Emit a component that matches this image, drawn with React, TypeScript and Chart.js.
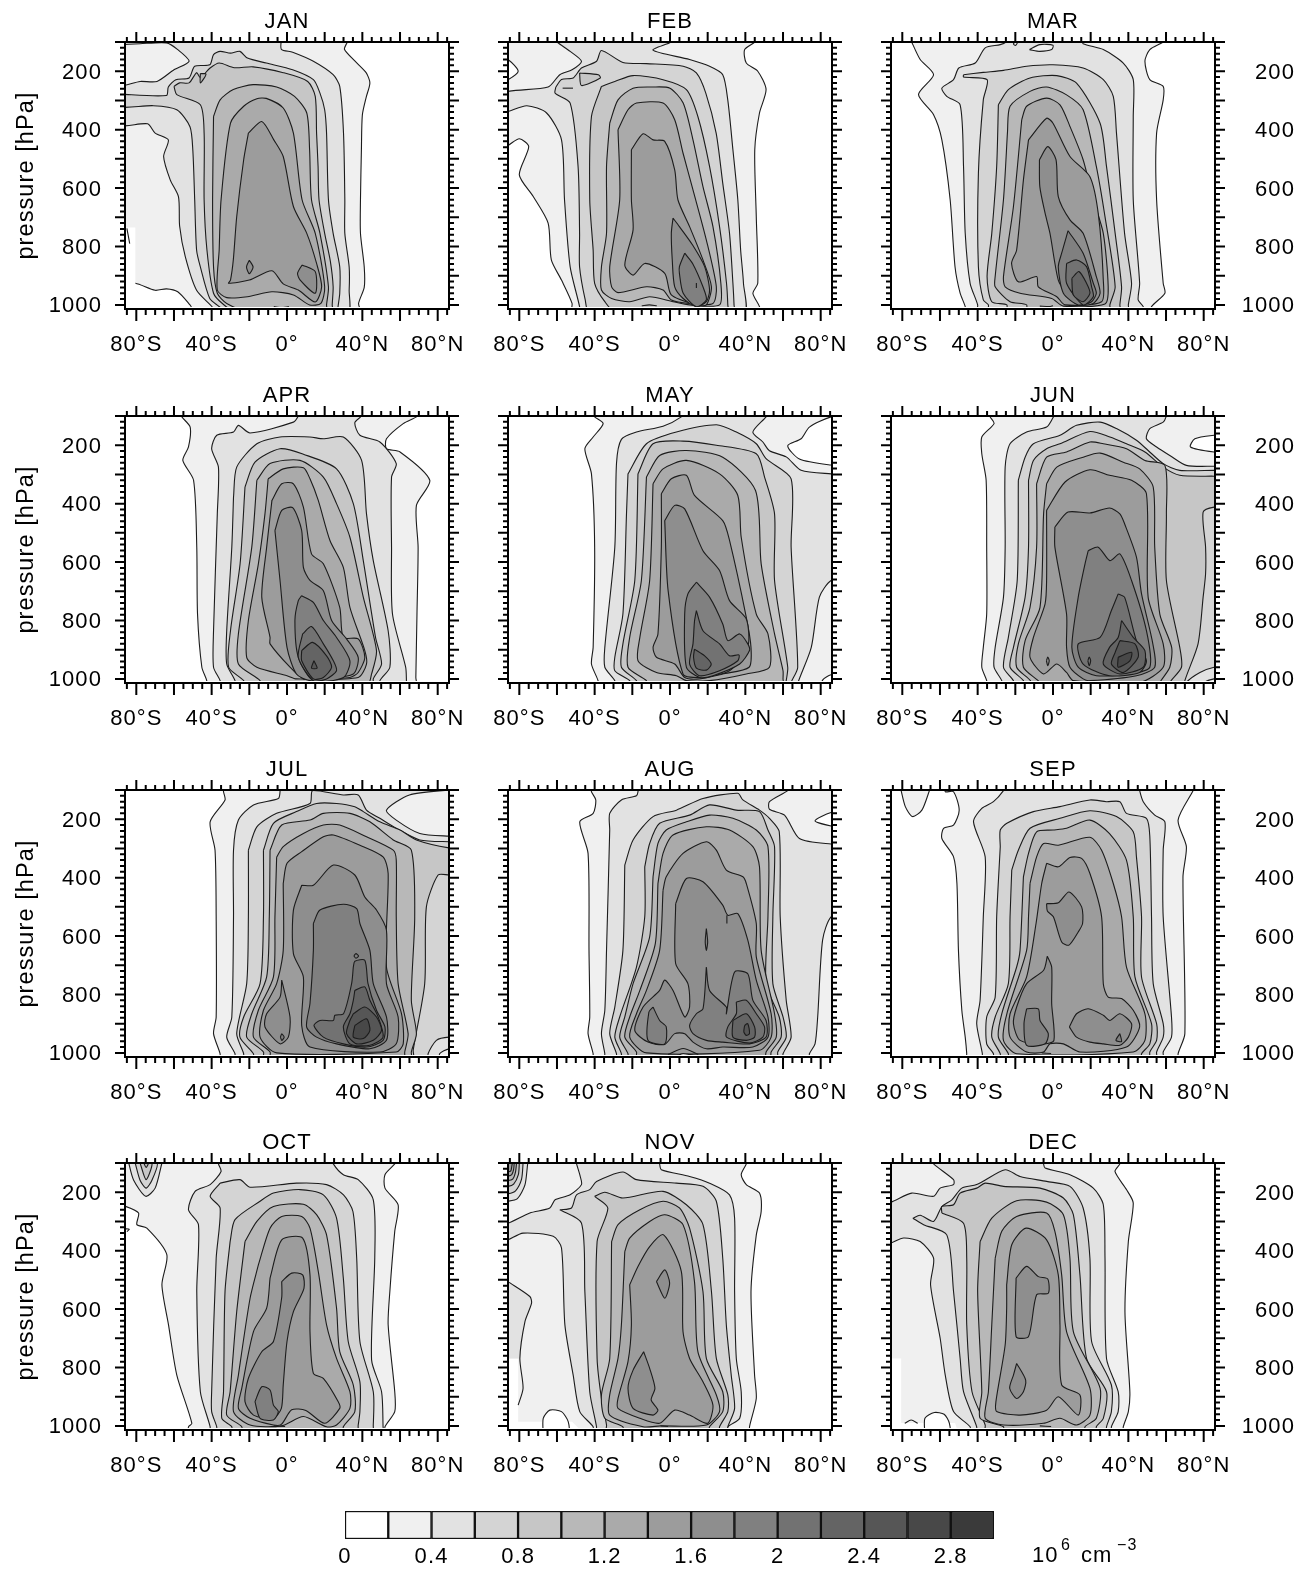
import React, { useEffect, useRef } from "react";
import { Chart, registerables } from "chart.js";

Chart.register(...registerables);

type Contour = [number, number[], string?];

const MONTHS = ["JAN", "FEB", "MAR", "APR", "MAY", "JUN", "JUL", "AUG", "SEP", "OCT", "NOV", "DEC"];
const LAT_TICKS = [-80, -40, 0, 40, 80];
const LAT_LABELS = ["80°S", "40°S", "0°", "40°N", "80°N"];
const PRESSURE_TICKS = [200, 400, 600, 800, 1000];
const LEGEND_TICKS = [0, 0.4, 0.8, 1.2, 1.6, 2, 2.4, 2.8];
const LEGEND_LABELS = ["0", "0.4", "0.8", "1.2", "1.6", "2", "2.4", "2.8"];
const LEGEND_STEP = 0.2;
const GREYS = ["#ffffff", "#f0f0f0", "#e2e2e2", "#d4d4d4", "#c6c6c6", "#b8b8b8", "#aaaaaa", "#9c9c9c", "#8e8e8e", "#808080", "#727272", "#646464", "#565656", "#484848", "#3a3a3a"];

const JAN: Contour[] = [
  [1, [32, 90, 32, 100, 30.5, 125, 36, 165, 42, 205, 44, 240, 42, 290, 40, 350, 39.5, 470, 39, 640, 39, 755, 41, 870, 41, 940, 38, 995, 39, 1030, -48, 1030, -51.5, 1000, -58, 955, -64, 945, -70, 950, -80.5, 926, -90, 926, -90, 90]],
  [0, [-90, 735, -80.5, 735, -80.5, 1030, -90, 1030], "f"],
  [-1, [-85, 738, -83.5, 790]],
  [2, [-3, 90, -3, 125, 3, 135, 14, 166, 24.5, 212, 28, 252, 30, 412, 30.7, 640, 30.7, 755, 33, 870, 33, 950, 32, 1030, -39, 1030, -39, 1012, -48, 950, -54, 835, -57, 730, -57.6, 630, -62, 572, -65.5, 492, -63, 435, -70, 412, -74, 380, -90, 380, -90, 90]],
  [1, [-90, 110, -78, 106, -64, 103, -58, 126, -52, 166, -60, 195, -69, 235, -78, 235, -90, 248]],
  [3, [-90, 278, -64, 283, -63, 254, -59, 229, -52, 223, -49, 183, -41, 178, -39, 143, -35.5, 132, -30, 138, -25, 132, -21, 155, -11, 172, 3, 195, 14, 229, 17.5, 275, 20, 332, 21, 412, 22, 640, 24.5, 755, 28, 870, 28, 960, 27, 1012, 27, 1030, -35, 1030, -35, 1012, -41, 978, -46, 870, -48, 812, -49, 640, -50, 470, -51.5, 390, -58.5, 332, -71, 318, -90, 322]],
  [4, [-60, 252, -57, 240, -52, 240, -48, 205, -46, 222, -41, 190, -36, 172, -28, 188, -18, 185, -2, 205, 11, 235, 15, 286, 15.7, 412, 16.5, 526, 17, 640, 20, 755, 23, 850, 24.5, 938, 24, 1000, 24, 1030, -26, 1030, -34, 997, -39, 960, -42.5, 812, -44, 640, -44, 412, -46, 315, -58.5, 280]],
  [5, [-46, 208, -43, 210, -46, 240]],
  [5, [-39, 355, -35.5, 298, -28.5, 263, -18, 246, -5.5, 254, 4, 286, 10.5, 343, 12, 469, 13, 640, 17.5, 755, 22, 938, 21, 1000, 21, 1030, -18, 1030, -32, 995, -37, 960, -39, 870, -39.5, 640]],
  [6, [-36, 812, -35, 640, -30, 378, -23, 320, -16, 294, -11, 293, -2, 326, 3.4, 412, 8, 640, 15, 755, 20, 938, 18, 995, 12, 1000, 3.4, 966, -8, 955, -21, 972, -32, 975, -37, 949]],
  [7, [-20.5, 412, -13.4, 372, -7, 435, -2, 492, 3.4, 663, 10.5, 755, 15.7, 858, 18.4, 938, 15, 990, 6, 949, -2, 928, -8, 883, -20, 915, -31, 926, -30, 915, -28.5, 846, -26.7, 698, -23, 503]],
  [8, [8, 863, 15, 886, 15, 960, 7, 915, 5.6, 892]],
  [8, [-20, 847, -18, 870, -20, 893, -21.5, 870]],
  [-1, [-7, 1006, -3, 1009, 1, 1006]],
];

const FEB: Contour[] = [
  [1, [45, 90, 45, 100, 39.6, 126, 40.5, 172, 46.6, 200, 51, 263, 47.5, 343, 45, 469, 45.8, 698, 46.6, 926, 44, 960, 47.5, 1006, 47.5, 1030, -52, 1030, -52, 995, -57.6, 915, -63, 846, -64.7, 720, -72.6, 629, -80, 555, -75, 458, -80, 431, -86, 454, -90, 460, -90, 90]],
  [0, [-90, 155, -86, 160, -80.6, 200, -86, 229, -90, 235]],
  [2, [1, 90, 0.7, 100, -9, 128, 10.4, 160, 21, 183, 28, 212, 30.7, 300, 33.4, 469, 36, 640, 37.5, 812, 39, 926, 39, 1030, -48, 1030, -48, 1006, -53, 870, -56, 640, -57.6, 435, -65.5, 343, -76, 318, -86, 338, -90, 342, -90, 276, -64.7, 254, -58.5, 212, -52, 195, -47, 166, -53, 132, -60, 100, -61, 90]],
  [3, [-60.6, 254, -57.6, 228, -51.4, 223, -47, 189, -39, 166, -36.4, 129, -25, 170, -12.5, 174, 7, 183, 14, 206, 19, 275, 24.5, 412, 28, 583, 31.6, 755, 33.4, 926, 34, 1000, 34, 1030, -42.6, 1030, -45, 983, -48, 870, -48, 755, -48.8, 526, -53, 309, -61, 275]],
  [4, [-36.4, 252, -29.3, 235, -19.6, 215, -3.7, 229, 8.7, 263, 14.8, 355, 21, 526, 26.3, 732, 30, 926, 30.7, 1000, 30.7, 1030, -28, 1030, -34.6, 989, -40, 926, -40.8, 812, -42.6, 640, -41.7, 355]],
  [4, [-48, 206, -38, 212, -37, 223, -47, 249]],
  [-1, [-57, 258, -51.5, 258]],
  [5, [-32, 378, -27.6, 298, -19.6, 258, -9, 254, 0, 258, 7, 309, 12.2, 435, 17.5, 595, 22.8, 732, 27, 926, 26.3, 1000, 10.4, 1000, 1.6, 989, -10.8, 972, -21.4, 989, -31, 978, -36.4, 949, -36.4, 870, -33.7, 755, -33.7, 526]],
  [6, [-27.6, 400, -22.3, 332, -17.8, 309, -3.7, 309, 2.5, 366, 6.9, 480, 12.2, 606, 19.3, 778, 24.6, 938, 22.8, 995, 10.4, 995, 0.7, 983, -3.7, 949, -12.5, 938, -27.6, 958, -31, 938, -32, 870, -26.7, 640]],
  [7, [-20.5, 469, -14.3, 414, -9, 435, -2.8, 440, 2.5, 538, 4.2, 640, 10.4, 732, 17.5, 846, 22, 938, 19.3, 1000, 14, 1000, 0.7, 966, -2.8, 892, -13.4, 858, -19.6, 898, -24, 863, -19.6, 743, -20.5, 640]],
  [8, [1.6, 703, 5, 732, 12, 795, 18.4, 869, 21, 949, 19.3, 989, 14, 1006, 7, 978, 2.5, 938, 1.2, 846, 0.7, 755]],
  [9, [7.8, 823, 12, 858, 17.5, 938, 19.3, 983, 14, 1006, 7, 960, 5, 892, 5, 869]],
  [-1, [14, 925, 14, 942]],
  [-1, [-15, 1003, -11, 1000, -7, 1003]],
];

const MAR: Contour[] = [
  [1, [-75.5, 90, -75, 100, -70.5, 160, -63.4, 212, -71.4, 280, -63.4, 349, -59, 435, -54.6, 640, -52, 870, -49.3, 960, -46.6, 1006, -46.6, 1030, 52.3, 1030, 52.3, 1006, 59.4, 960, 58.5, 926, 55, 640, 55, 412, 58.5, 298, 58.5, 252, 51.4, 229, 48.8, 166, 51.4, 126, 58.5, 100, 59, 90]],
  [2, [-25, 90, -25, 100, -28, 109, -36, 120, -41.3, 172, -50, 189, -52.8, 229, -59, 258, -56.4, 286, -49.3, 315, -47.5, 526, -46.6, 755, -44, 926, -40, 1000, -40, 1030, 47.9, 1030, 47.9, 1006, 45.2, 983, 46, 926, 42.6, 640, 42.6, 355, 42.6, 229, 37.3, 172, 26.7, 126, 16, 106, 15, 90]],
  [1, [-20, 100, -19, 103, -20, 112, -21, 106]],
  [1, [-12.5, 126, -7, 109, 0, 111, -0.7, 126, -7, 132]],
  [3, [-47.5, 212, -37, 204, -26.3, 197, -14, 183, 0, 178, 16, 189, 26.7, 229, 32, 286, 33.7, 412, 38, 755, 41.7, 926, 40, 1000, 40, 1030, -34.3, 1030, -34.3, 1000, -37, 983, -39.6, 870, -39.6, 549, -37, 298, -35, 229, -47.5, 220]],
  [4, [-29, 315, -23.7, 263, -12.2, 223, 2, 215, 12.5, 241, 25, 378, 28.4, 526, 33, 755, 36.4, 938, 35.5, 1000, 35.5, 1030, -24.5, 1030, -24.5, 1000, -32.5, 989, -35, 903, -32.5, 755, -29.9, 526]],
  [5, [-24.2, 412, -22.8, 320, -12.2, 269, -3.4, 254, 7.2, 281, 16, 332, 23, 526, 27.6, 698, 33, 938, 30.2, 1000, 30.2, 1030, -14, 1030, -14, 1000, -22.8, 989, -30.7, 938, -30.7, 903, -26.3, 640]],
  [6, [-16.6, 366, -14, 320, -3.4, 292, 3.7, 315, 9, 389, 16, 503, 21.4, 640, 26.7, 755, 29.3, 938, 27.6, 997, 5.5, 1004, -0.7, 978, -17.5, 960, -25.4, 938, -26.3, 903, -21, 663]],
  [7, [-13, 435, -3.4, 361, 0, 378, 9, 492, 19.6, 561, 24, 686, 26.7, 915, 25.8, 989, 6.4, 1000, 2, 972, -7.8, 938, -8.7, 903, -18.4, 921, -22, 858, -19.3, 812, -15.7, 572]],
  [8, [-7.2, 503, -2.8, 458, 1.6, 503, 2.8, 629, 9, 709, 16, 755, 23, 903, 25, 960, 21.4, 995, 13.4, 1000, 7.2, 960, 2.8, 915, -1.6, 755, -4.2, 686, -7, 595]],
  [9, [8, 746, 16, 823, 21.4, 926, 23, 960, 20.5, 989, 13.4, 1000, 5.5, 960, 2.8, 870, 4.6, 823]],
  [10, [7.2, 858, 12.5, 846, 17.8, 869, 20.5, 938, 21.4, 972, 16, 1000, 7.2, 926]],
  [11, [10, 909, 13.8, 886, 17.8, 926, 19.6, 960, 16, 989, 10.8, 966]],
  [-1, [-7, 1004, -2, 1006, 0, 1003]],
];

const APR: Contour[] = [
  [1, [-56, 90, -55.8, 103, -51.4, 138, -52.3, 206, -55.3, 252, -49.6, 320, -47.9, 549, -47.5, 778, -45.2, 960, -42.6, 1006, -42.6, 1030, 68.4, 1030, 68.4, 995, 69, 778, 69.6, 549, 68.7, 406, 75.8, 320, 60, 223, 52.8, 212, 52.8, 178, 61.7, 126, 68.7, 103, 70, 90]],
  [2, [6, 90, 6, 100, 3.4, 121, -19.6, 158, -25.8, 132, -28.4, 155, -37.3, 166, -40, 212, -36.4, 275, -37, 435, -39, 835, -39, 960, -35.5, 1006, -35.5, 1030, 63.4, 1030, 63.4, 1006, 63, 960, 56, 778, 55.5, 549, 55.5, 309, 58, 263, 49.3, 189, 38.7, 166, 36, 123, 39.6, 100, 40, 90]],
  [3, [-28.4, 378, -26.7, 275, -16, 195, -3.7, 172, 12.2, 172, 19.3, 178, 29.9, 172, 39.6, 252, 42.2, 435, 45.8, 595, 53.7, 835, 54.6, 960, 49.3, 1006, 49.3, 1030, -27.6, 1030, -27.6, 1006, -32, 949, -32, 835, -29.3, 549]],
  [4, [-22.3, 343, -17, 258, -3.7, 212, 8.7, 231, 26.3, 281, 35.2, 400, 40.5, 595, 47, 858, 50.2, 949, 45.8, 1000, 45.8, 1030, -23, 1030, -23, 1006, -31, 960, -30, 835, -24.9, 606]],
  [5, [-16, 320, -9, 263, 6.9, 252, 19.3, 309, 26.3, 400, 33.4, 515, 40.5, 720, 47.5, 903, 44.9, 983, 42, 1030, -14.3, 1030, -14.3, 1006, -25.8, 949, -25.8, 846, -18.7, 549]],
  [6, [-10, 315, -2, 281, 8.7, 277, 12.2, 315, 16.6, 389, 22.8, 526, 29.9, 618, 33.4, 755, 41.3, 903, 42.2, 949, 37.8, 995, 5, 1000, 0, 989, -16, 960, -21.4, 926, -20.5, 800, -15.2, 606, -11.7, 435]],
  [7, [-8, 389, -2.8, 332, 3.4, 332, 8.7, 412, 13, 572, 19.3, 606, 28, 755, 29.9, 858, 37.8, 863, 41.3, 926, 37.8, 978, 33.4, 995, 12.2, 1000, 8.7, 1000, 1.6, 960, -9, 880, -9, 858, -13.4, 720, -10.8, 549]],
  [8, [-6.4, 492, -2.8, 423, 3, 414, 7.8, 492, 8.7, 618, 12.2, 663, 19.3, 698, 23.7, 800, 31.6, 863, 37.8, 926, 35.2, 983, 19.3, 1000, 12.2, 1006, 5, 983, 0, 892, -3.7, 663]],
  [9, [7.8, 715, 14, 738, 19.3, 800, 26.3, 858, 33.4, 938, 30, 995, 14, 1006, 6, 926, 4.2, 800, 6, 732]],
  [10, [8.3, 846, 13, 821, 19.3, 880, 24.6, 938, 26.3, 972, 21, 1000, 14, 1006, 6, 926]],
  [11, [7.8, 903, 13.6, 875, 21, 921, 23.7, 960, 19.3, 995, 14, 1000, 7.8, 938]],
  [12, [14.3, 938, 16, 963, 13, 963]],
];

const MAY: Contour[] = [
  [1, [-41, 90, -40, 103, -35.5, 126, -40.8, 172, -45.2, 212, -41.7, 298, -40, 549, -40.8, 892, -41.7, 949, -38.2, 1006, -38.2, 1030, 95, 1030, 95, 90]],
  [0, [95, 100, 85.5, 103, 74, 138, 69.6, 178, 62.5, 202, 68.7, 247, 85.5, 268, 95, 270]],
  [0, [95, 980, 85.5, 986, 81, 1004, 81, 1030, 95, 1030]],
  [2, [6, 90, 6, 103, -3.7, 135, -17.8, 155, -25.8, 180, -28.4, 262, -29.3, 549, -34.6, 892, -34.6, 960, -29.3, 1006, -29.3, 1030, 68, 1030, 68, 1012, 75, 892, 79.3, 720, 85.5, 663, 95, 655, 95, 300, 85.5, 298, 69.6, 286, 61.7, 240, 52.8, 219, 49.3, 189, 44, 155, 51, 103, 52, 90]],
  [3, [-22.3, 298, -12.5, 195, 3.4, 155, 24.6, 130, 35.2, 155, 45.8, 195, 51, 246, 64.3, 315, 64.3, 549, 67.8, 960, 64.3, 1012, 64, 1030, -21.4, 1030, -21.4, 1006, -29.3, 972, -29.3, 926, -25, 778, -23.1, 435]],
  [4, [-17, 298, -9, 195, 6.9, 186, 24.6, 200, 45.8, 229, 50.2, 309, 55.5, 435, 55.5, 663, 62.5, 960, 61.7, 1006, 61, 1030, -17.8, 1030, -17.8, 1006, -25.8, 960, -25, 880, -18.7, 663]],
  [5, [-12.5, 309, -5.5, 235, 8.7, 218, 28, 241, 45.4, 355, 48.4, 606, 55.5, 846, 60, 972, 60, 1000, 60, 1030, -12, 1030, -12.5, 1006, -22.3, 960, -21.4, 858, -15.2, 663]],
  [6, [-9, 332, -3.7, 281, 8.7, 252, 26.3, 298, 36, 372, 37.8, 515, 45.8, 778, 52, 846, 52.8, 960, 40.5, 983, 21, 1006, 8.7, 1006, 3.4, 989, -7.2, 978, -17, 938, -16, 858, -10.8, 663]],
  [7, [-4.6, 366, 0.7, 315, 8.7, 303, 13, 372, 28, 458, 31.6, 526, 40.5, 789, 43, 892, 42, 960, 28, 983, 15.7, 1000, 7.8, 995, 2.5, 949, -7.2, 926, -9, 892, -6.4, 846, -4.6, 549]],
  [8, [-2.8, 458, 2.5, 406, 7.8, 418, 17.5, 561, 26.3, 629, 31.6, 732, 40.5, 795, 41.3, 892, 31.6, 972, 15.7, 995, 6.9, 983, -1, 698]],
  [9, [14, 669, 21, 720, 28, 812, 30.7, 869, 37, 846, 41.3, 880, 42.2, 903, 37, 949, 22.8, 989, 15.7, 995, 8.7, 960, 7.8, 778, 9.5, 709]],
  [10, [14, 766, 17.5, 835, 26.3, 880, 31.6, 921, 36.6, 918, 36, 938, 26.3, 972, 15.7, 989, 10.4, 949, 12.2, 880, 13, 803]],
  [11, [13, 898, 18.4, 921, 21.9, 949, 19.3, 970, 14, 963, 12.5, 926]],
];

const JUN: Contour[] = [
  [1, [-34, 90, -33.4, 103, -31.3, 126, -37.8, 172, -37.8, 229, -35.5, 320, -35.2, 549, -35.2, 778, -37, 892, -37.8, 960, -35.2, 1006, -35.2, 1030, 95, 1030, 95, 90]],
  [0, [95, 163, 85.5, 166, 75.3, 178, 73, 206, 85.5, 223, 95, 224]],
  [2, [0.5, 90, 0.2, 103, -3.4, 138, -14, 155, -22.8, 195, -25.4, 275, -25.4, 549, -26.3, 720, -30.7, 892, -31.3, 960, -27.2, 1006, -27, 1030, 80.6, 1030, 80.6, 1012, 85.5, 1000, 95, 995, 95, 272, 85.5, 272, 70.8, 269, 62, 235, 55, 206, 49.6, 178, 51.4, 143, 58.5, 121, 60, 103, 60, 90]],
  [3, [-18.4, 320, -14.8, 241, -10.4, 195, 3.7, 166, 12.5, 132, 25, 121, 33.7, 143, 44.3, 183, 50.5, 218, 58.5, 263, 67.3, 286, 85.5, 286, 95, 286, 95, 955, 85.5, 960, 78, 978, 70.8, 1012, 70.8, 1030, -21, 1030, -21, 1006, -26.3, 960, -23.7, 858, -19, 663]],
  [4, [-13, 320, -10.4, 252, -3.4, 212, 3.7, 195, 19.6, 153, 30.2, 172, 39, 195, 48.8, 223, 58.5, 275, 67.3, 303, 85.5, 306, 95, 306, 95, 412, 85.5, 412, 79.7, 429, 81, 549, 81, 640, 79.7, 720, 77, 880, 70, 1006, 70, 1030, -15.7, 1030, -15.7, 1006, -22.8, 960, -21, 892, -14.8, 720, -13, 549]],
  [5, [-8.7, 332, -3.4, 241, 7.2, 223, 19.6, 189, 26.7, 195, 39, 212, 48.8, 252, 59.4, 269, 60.2, 435, 60.2, 663, 67.3, 892, 68.2, 960, 62, 1012, 62, 1030, -12, 1030, -12, 1006, -19.3, 960, -18.4, 880, -12.2, 755, -8.7, 549]],
  [6, [-3.4, 332, 2, 275, 16, 241, 25, 227, 37.3, 258, 46, 281, 53.2, 343, 54, 549, 56.7, 778, 63, 892, 62, 960, 56.7, 1012, 56, 1030, -6.9, 1030, -6.9, 1012, -15.7, 960, -14.8, 869, -6.9, 755, -5, 435]],
  [7, [-3.4, 423, 6.4, 326, 19.6, 284, 30, 303, 41.7, 320, 49.6, 366, 50.5, 720, 58.5, 880, 58.5, 960, 46, 1012, 10.8, 1006, 7.2, 978, 2, 949, -5, 983, -12.2, 926, -10.4, 858, -4.2, 743, -3.4, 663]],
  [8, [1, 480, 8, 429, 19.6, 432, 30, 415, 35.5, 435, 38, 469, 44.3, 583, 47, 709, 53, 880, 54, 960, 44.3, 989, 19.6, 1006, 16, 1000, 9, 960, 7.2, 892, 7.2, 778, 1, 549]],
  [9, [18.7, 561, 24, 549, 30.2, 595, 35.5, 572, 41.7, 663, 49.6, 835, 51.4, 960, 40.8, 983, 23, 989, 13.4, 960, 10, 892, 13.4, 720, 17, 606]],
  [10, [34.6, 709, 38, 720, 44.3, 869, 49.6, 938, 46, 978, 30, 989, 16, 949, 13.4, 880, 25, 858, 31, 766]],
  [11, [36.4, 800, 42.6, 858, 48.8, 903, 47.9, 960, 35.5, 983, 26.7, 949, 30, 892, 34.6, 858]],
  [12, [35.5, 869, 43.5, 880, 45.2, 926, 37.3, 978, 31, 949, 33, 909]],
  [13, [34.6, 926, 41.7, 909, 40.8, 938, 34.6, 960]],
  [8, [-3.5, 938, -2.8, 925, -2, 938, -2.8, 955]],
  [10, [18.5, 938, 19.2, 925, 20, 938, 19.2, 955]],
];

const JUL: Contour[] = [
  [1, [-33.7, 90, -33.7, 106, -32.9, 134, -40.8, 209, -38.2, 306, -37.6, 534, -37.6, 877, -39, 934, -35.5, 1003, -35.5, 1030, 95, 1030, 95, 90]],
  [2, [-3.7, 80, -3.7, 106, -4.6, 129, -17.8, 151, -25.8, 203, -28.4, 306, -28.4, 534, -29.3, 877, -32, 946, -27.6, 1003, -27.6, 1030, 81, 1030, 81, 1003, 86, 986, 95, 985, 95, 258, 86, 258, 70.5, 249, 58, 203, 52.8, 169, 65, 117, 86, 100, 95, 95, 95, 80]],
  [3, [-20.5, 306, -16, 226, -5.5, 180, 12.2, 146, 13.6, 102, 29.9, 117, 37.8, 117, 42.2, 169, 49.3, 197, 58, 231, 70.5, 271, 86, 277, 95, 277, 95, 950, 86, 946, 79.3, 957, 74.9, 1003, 74.9, 1030, -23, 1030, -23, 1003, -26.7, 934, -21.4, 763, -20.5, 534]],
  [4, [-12.5, 306, -7.2, 214, 5, 174, 15.7, 146, 26.3, 146, 36, 157, 40.5, 174, 49.3, 209, 60, 237, 68.7, 271, 86, 298, 95, 298, 95, 391, 86, 391, 80.2, 391, 74, 500, 73.1, 763, 67, 991, 67, 1030, -17.8, 1030, -17.8, 1003, -25, 946, -23, 877, -14.3, 763, -12.5, 534]],
  [5, [-9, 306, -2.8, 220, 12.2, 203, 19.3, 180, 33.4, 180, 44, 209, 56.4, 271, 66, 306, 67.8, 534, 66, 820, 68.7, 934, 66, 997, 66, 1030, -12.5, 1030, -12.5, 997, -21.4, 946, -18.7, 866, -10.8, 740, -9.4, 534]],
  [6, [-5.5, 330, -2, 294, 8.7, 249, 19.3, 220, 28, 220, 42.2, 260, 56.4, 306, 58, 340, 58, 534, 59, 763, 64.3, 934, 62.5, 997, 62, 1030, -9, 1030, -9, 997, -17.8, 946, -15.2, 854, -7.2, 740, -6.4, 534]],
  [7, [-2, 420, 0, 351, 7.8, 311, 19.3, 260, 24.6, 254, 38.7, 289, 51, 329, 53.7, 386, 52.8, 706, 60.8, 866, 61.7, 969, 58, 997, -5.5, 1000, -14.3, 946, -12.5, 854, -5.5, 763, -2, 649]],
  [8, [7.8, 426, 14, 426, 24.6, 357, 36, 391, 41.3, 466, 47.5, 511, 52.8, 580, 52.8, 763, 59, 877, 58, 969, 49.3, 997, 12.2, 980, 7.8, 906, 8.7, 740, 3.4, 660, 3.4, 511]],
  [8, [-2.8, 751, 1.6, 877, 0.7, 946, -3.7, 969, -11.7, 911, -10.8, 866, -3.7, 809]],
  [9, [14, 557, 17.5, 511, 29.9, 491, 37, 506, 38.7, 557, 44, 649, 45.8, 763, 52.8, 877, 52.8, 957, 44, 986, 26.3, 969, 15.7, 946, 10.4, 911, 12.2, 831, 14, 649]],
  [10, [35.2, 706, 36, 686, 41.3, 683, 43, 763, 47.5, 854, 52, 911, 51, 957, 42.2, 980, 29.9, 969, 19.3, 946, 14.3, 906, 17.5, 889, 24.6, 889, 25.4, 871, 30, 866, 34.3, 763]],
  [11, [36, 786, 41.3, 774, 44, 820, 48.4, 877, 51, 946, 44, 974, 33.4, 969, 29.9, 911, 33.4, 866, 35.2, 820]],
  [12, [35.2, 866, 41.3, 843, 47.5, 877, 50.2, 923, 45.8, 957, 37, 969, 31.6, 934, 33.4, 889]],
  [13, [36, 906, 42.2, 883, 44, 923, 40.5, 951, 35.2, 946]],
  [9, [-3.5, 946, -2.8, 935, -1.5, 946, -2.8, 957]],
  [9, [35.5, 668, 36.6, 660, 38, 668, 36.6, 676]],
];

const AUG: Contour[] = [
  [1, [-41.7, 90, -41.7, 106, -39.4, 134, -40.8, 180, -47.9, 209, -43.5, 317, -43, 649, -42.6, 877, -43.5, 934, -40.8, 1003, -40.8, 1030, 95, 1030, 95, 90]],
  [0, [95, 170, 85.5, 177, 77, 205, 85.5, 223, 95, 228]],
  [2, [-17, 90, -17, 106, -17.8, 120, -25.8, 134, -32, 180, -32, 237, -33.7, 649, -34.6, 854, -36.4, 934, -34.6, 1003, -34.6, 1030, 74, 1030, 74, 1003, 77, 969, 78.4, 877, 81, 614, 85.5, 534, 95, 520, 95, 285, 85.5, 285, 68.7, 266, 60.8, 186, 52.8, 166, 52.8, 140, 62.5, 102, 63, 90]],
  [3, [-24, 357, -19.6, 271, -9, 191, 3.4, 169, 17.5, 129, 36, 111, 38.7, 134, 47.5, 169, 52.8, 197, 58, 243, 58.5, 534, 61.7, 820, 64.3, 946, 60, 1003, 60, 1030, -28.4, 1030, -28.4, 1003, -32, 934, -29.3, 843, -25, 649]],
  [4, [-13.4, 363, -10.8, 283, -5.5, 214, 10.4, 186, 21, 151, 35.2, 169, 47.5, 174, 52, 237, 55.5, 294, 54.6, 534, 54.6, 763, 60, 877, 61.7, 946, 57.2, 997, 57, 1030, -25.8, 1030, -25.8, 1003, -29.3, 946, -26.7, 877, -17.8, 706, -13.4, 534]],
  [5, [-9, 397, -6.4, 283, -2, 237, 8.7, 209, 21, 186, 33.4, 197, 45.8, 237, 52, 294, 52, 534, 51, 763, 58, 877, 59, 946, 53.7, 997, 53, 1030, -22.3, 1030, -22.3, 1003, -26.7, 946, -24, 877, -19.6, 763, -10.8, 603]],
  [6, [-6.4, 420, -3.7, 317, 1.6, 254, 19.3, 226, 31.6, 237, 44, 294, 47.5, 363, 48.4, 649, 55.5, 866, 56.4, 946, 51, 997, 50, 1030, -17.8, 1030, -17.8, 997, -24, 946, -21.4, 877, -16, 786, -7.8, 626]],
  [7, [-3.7, 443, -2, 397, 6.9, 317, 19.3, 277, 24.6, 306, 29.9, 374, 38.7, 397, 40.5, 420, 45.8, 557, 45.8, 671, 53.7, 866, 53.7, 946, 47.5, 991, -12.5, 1000, -21.4, 946, -17.8, 866, -12.5, 786, -5.5, 649]],
  [8, [3, 489, 8.7, 403, 17.5, 414, 28, 494, 30.7, 529, 36, 523, 41.3, 614, 45.8, 751, 52, 877, 52, 946, 44, 980, 28, 980, 19.3, 986, 12.2, 963, 7.8, 934, 2.5, 934, -2.8, 971, -11.7, 963, -18.7, 923, -14.3, 843, -5.5, 786, -2.8, 751, 1.6, 786, 7.8, 877, 10.4, 843, 9.5, 763, 3, 694]],
  [9, [19.3, 706, 21, 786, 29.9, 843, 29.9, 866, 34.3, 723, 41.3, 729, 44, 820, 51, 889, 51, 946, 42.2, 969, 28, 963, 19.3, 957, 12.2, 934, 10.4, 906, 14, 866, 17.5, 849]],
  [9, [-9, 843, -5.5, 889, -2, 911, -2.8, 969, -11.7, 957, -11.2, 860]],
  [9, [19.3, 574, 20, 620, 19.3, 649, 18.7, 620]],
  [-1, [30.2, 529, 30.2, 557]],
  [10, [35.2, 826, 40.5, 820, 45.8, 866, 50.2, 911, 49.3, 946, 42.2, 966, 30, 946, 30.7, 911, 35.2, 866]],
  [11, [33.4, 889, 40.5, 866, 44.9, 911, 44.9, 946, 40.5, 957, 33.4, 946]],
  [12, [39.6, 906, 41.3, 900, 42.2, 934, 40.5, 940, 39.2, 928]],
  [-1, [-1, 1005, 7, 985, 15, 1005]],
  [0, [4, 1008, 7, 1002, 12, 1008]],
];

const SEP: Contour[] = [
  [1, [-57, 90, -57.2, 106, -52.8, 106, -49.8, 169, -52.8, 220, -58.1, 231, -59, 266, -52.8, 329, -51, 420, -50.2, 649, -48.4, 854, -46.6, 946, -45.8, 1003, -45.8, 1030, 66.4, 1030, 66.4, 1003, 70, 934, 69, 397, 70.8, 294, 66.4, 203, 74.4, 102, 75, 90]],
  [1, [-81, 90, -80.7, 100, -78.4, 157, -74.6, 191, -69.6, 169, -65.5, 100, -65, 90]],
  [2, [-26, 90, -26.3, 102, -31.6, 140, -37.8, 163, -42.2, 209, -36, 329, -37, 534, -38.7, 820, -40.5, 900, -37.5, 1003, -37.5, 1030, 58.5, 1030, 58.5, 997, 62.9, 946, 62.9, 877, 58.5, 534, 58.5, 306, 59.4, 209, 54, 186, 47.9, 140, 46, 102, 46, 90]],
  [3, [-28, 294, -28, 237, -24.5, 214, -10.4, 174, 3.7, 157, 19.6, 134, 28.4, 140, 35.5, 140, 39, 180, 49.6, 197, 51.4, 260, 52.3, 534, 53.2, 763, 58.5, 900, 58.5, 946, 55, 997, 55, 1030, -31.6, 1030, -31.6, 1003, -35.2, 969, -35.2, 877, -30.7, 809, -29.9, 534]],
  [4, [-21.9, 374, -18.4, 306, -12.2, 231, 3.7, 197, 19.6, 171, 33.7, 191, 42.6, 243, 44.3, 329, 47, 534, 47, 740, 55, 900, 55, 957, 51.4, 997, 51, 1030, -28, 1030, -28, 1003, -32.5, 946, -30.7, 877, -23.7, 763, -22.8, 534]],
  [5, [-15.7, 397, -13, 317, -8.7, 243, 0, 237, 7.2, 231, 19.6, 203, 30, 249, 39, 340, 42.6, 534, 43.5, 740, 52.3, 900, 51.4, 969, 47, 1003, 47, 1030, -23.7, 1030, -23.7, 1003, -29, 946, -27.2, 866, -19.3, 706, -17.5, 649]],
  [6, [-12.2, 420, -8.7, 329, -5, 283, 2.8, 289, 19.6, 262, 25.8, 306, 32, 420, 36.4, 534, 39, 706, 48.8, 866, 48.8, 957, 42.6, 997, -19.3, 1003, -26.3, 957, -24.5, 866, -14, 649, -13, 534]],
  [7, [-3.4, 351, 2.8, 363, 9, 331, 15.2, 334, 19.6, 386, 25.8, 534, 26.7, 763, 29.3, 809, 36.4, 814, 42.6, 854, 46, 911, 39, 980, 14.3, 997, 5.5, 969, -1.6, 969, -5, 997, -14, 997, -22.8, 946, -22.8, 866, -14, 740, -9, 557, -6, 420]],
  [8, [-3, 669, -0.7, 706, -0.7, 831, 0.5, 957, -5, 969, -17.5, 957, -21, 900, -19.3, 843, -14, 763, -5, 717]],
  [8, [-3.4, 489, 2.8, 486, 8.5, 449, 15.2, 500, 15.7, 557, 13.4, 586, 8.5, 631, 4.6, 620, 0.2, 534, -3, 514]],
  [8, [8.7, 911, 12.5, 866, 18.7, 849, 26.7, 871, 30.2, 889, 35.5, 866, 41.7, 900, 40, 946, 35.5, 974, 26.7, 969, 19.6, 963, 12.5, 946]],
  [9, [-14, 849, -7.8, 849, -6.9, 889, -2.5, 934, -4.2, 969, -14, 974, -15.4, 900]],
  [9, [35.5, 934, 36.4, 961, 33.4, 957]],
  [-1, [-6, 1000, -1, 1002]],
];

const OCT: Contour[] = [
  [1, [58, 90, 57.2, 103, 52, 140, 52, 186, 59, 243, 57.2, 334, 54.6, 540, 53.7, 654, 57.2, 883, 57.2, 951, 52, 1003, 52, 1030, -52, 1030, -52.3, 1003, -50.5, 991, -58.5, 826, -62.9, 654, -66.4, 517, -63.8, 414, -74.4, 323, -79.7, 311, -78.8, 271, -85.5, 249, -90, 245, -90, 90]],
  [2, [-84, 90, -84, 100, -81.4, 159, -75, 214, -70, 186, -66.4, 100, -66, 90]],
  [3, [-80.6, 100, -78, 159, -74.8, 186, -71.7, 159, -69, 100]],
  [4, [-78, 100, -74.8, 157, -71.7, 100]],
  [5, [-76, 100, -74.8, 115, -73.6, 100]],
  [-1, [-86, 325, -83.7, 327, -85, 335]],
  [2, [-36, 90, -36.4, 103, -35, 129, -40.8, 174, -48.8, 197, -52.3, 260, -47, 311, -47.9, 540, -46, 883, -40.8, 1003, -40.8, 1030, 51, 1030, 51, 1003, 50.2, 883, 44.9, 774, 46.6, 423, 45.8, 226, 37.8, 157, 29.9, 140, 24.6, 103, 25, 90]],
  [3, [-35.5, 169, -25, 157, -19.6, 183, 5, 169, 21, 174, 30, 209, 35, 266, 37, 426, 38.7, 711, 45.8, 883, 45.8, 997, 45, 1030, -37, 1030, -37.3, 1003, -40, 951, -40, 883, -37.6, 426, -35.5, 254, -40.8, 214]],
  [4, [-30.2, 369, -27.6, 294, -14.3, 231, -7.2, 203, 6.9, 191, 19.3, 209, 26.3, 289, 29.9, 494, 32.5, 711, 38.7, 849, 38.7, 951, 37.8, 997, 37, 1030, -29.3, 1030, -29.3, 1003, -34.6, 974, -33.7, 883, -32.9, 540]],
  [5, [-22.3, 369, -16, 300, -7.2, 249, 8.7, 241, 15.7, 277, 21, 346, 26.3, 597, 28, 746, 35.2, 860, 36, 951, 29.9, 1003, 30, 1030, -24, 1030, -24, 1003, -32, 963, -30.2, 883, -26.7, 609]],
  [6, [-15.2, 449, -9, 323, -2.8, 283, 7.8, 283, 12.2, 323, 16.6, 471, 21, 654, 26.3, 769, 33.4, 883, 33.4, 940, 26.3, 997, 21, 1003, 8.7, 968, -3, 1000, -19.6, 997, -28.4, 951, -25.8, 826, -19.6, 563]],
  [7, [-9, 494, -2.8, 363, 8.3, 357, 12.2, 483, 12.2, 677, 14, 820, 19.3, 837, 27.2, 917, 28, 940, 20, 991, 10, 947, 2.5, 945, -3, 995, -7.2, 997, -19.6, 974, -25.8, 940, -24, 871, -17.8, 677, -10.8, 597]],
  [8, [-2.8, 506, 2.5, 477, 8.3, 483, 9, 529, 3.4, 609, 0, 711, -2, 860, -3, 940, -7.2, 974, -17.8, 963, -22.3, 917, -20.5, 837, -13.4, 746, -7.2, 711, -2.8, 560]],
  [9, [-17, 917, -13.4, 866, -9, 877, -7.2, 929, -4.6, 951, -7.2, 980, -14.3, 974]],
  [-1, [-7, 1000, -1, 1002]],
];

const NOV: Contour[] = [
  [1, [40.5, 90, 40.5, 103, 37.8, 140, 40.5, 174, 47.5, 203, 48.4, 266, 45.8, 347, 43, 540, 44.9, 826, 45.8, 906, 42.2, 1003, 42, 1030, -90, 1030, -90, 90]],
  [0, [-90, 769, -80.6, 769, -80.6, 1030, -90, 1030], "f"],
  [0, [-90, 986, -52, 986, -45, 1030, -90, 1030], "f"],
  [0, [-67.3, 1030, -67.3, 974, -63.8, 946, -57.6, 951, -54, 986, -54, 1030]],
  [2, [-90, 500, -86, 506, -74.4, 557, -73.5, 580, -77, 643, -79.7, 769, -90, 769], "f"],
  [-1, [-86, 506, -74.4, 557, -73.5, 580, -77, 643, -79.7, 769, -78, 871, -80.6, 929]],
  [2, [-5.5, 90, -5.5, 103, -4.6, 123, 10.4, 146, 21, 169, 31.6, 209, 34.3, 289, 34.3, 540, 35.2, 769, 37.8, 883, 37, 974, 30.7, 1003, 30, 1030, -40.8, 1030, -40.8, 1003, -47.9, 951, -51.4, 826, -55.8, 654, -57.6, 391, -62, 351, -78, 340, -86, 363, -90, 370, -90, 306, -86, 306, -74.4, 271, -63.8, 254, -61, 226, -53, 209, -47, 174, -47.9, 140, -49.6, 103, -50, 90]],
  [2, [-90, 231, -86, 231, -81, 222, -77, 175, -75.5, 100, -75, 90, -90, 90]],
  [3, [-90, 205, -86, 205, -82, 195, -78.8, 155, -78, 100, -78, 90, -90, 90]],
  [4, [-90, 180, -86, 180, -83, 172, -80.5, 140, -80, 100, -80, 90, -90, 90]],
  [5, [-90, 160, -86, 160, -83.5, 155, -82, 130, -81.5, 100, -81.5, 90, -90, 90]],
  [6, [-90, 145, -86, 145, -84, 140, -83, 122, -82.7, 100, -82.7, 90, -90, 90]],
  [7, [-90, 130, -86, 130, -84.5, 127, -84, 112, -83.7, 100, -83.7, 90, -90, 90]],
  [3, [-58.5, 260, -52.3, 254, -49.6, 209, -42.6, 191, -39, 163, -25, 131, -17.8, 157, 3.4, 169, 17.5, 180, 24.6, 231, 28, 426, 29.9, 654, 32.5, 826, 34.3, 940, 30.7, 1003, 30, 1030, -39, 1030, -39, 1003, -42.6, 883, -45.2, 540, -47, 306]],
  [4, [-40, 214, -34.6, 200, -25, 220, -3.7, 197, 8.7, 243, 17.5, 311, 22, 540, 24.6, 769, 30.7, 894, 30.7, 951, 26.3, 1003, 26, 1030, -33.7, 1030, -33.7, 997, -36.4, 906, -38.7, 769, -38.7, 369, -33, 254]],
  [5, [-31, 369, -27.6, 311, -16, 260, -3.7, 231, 5, 254, 10.4, 323, 17.5, 540, 19.3, 769, 28, 883, 28, 951, 21, 1003, 20, 1030, -25, 1030, -25, 1003, -34.6, 974, -36.4, 894, -32, 769]],
  [6, [-24, 403, -21.4, 357, -10.8, 300, -2.8, 277, 6.9, 311, 13, 506, 14.8, 746, 24.6, 894, 26.3, 951, 19.3, 997, -5, 1000, -14.3, 1003, -32, 963, -32, 894, -27.6, 769, -25.8, 654]],
  [7, [-21.4, 517, -17, 454, -10.8, 386, -3.4, 346, 6, 471, 6.9, 677, 10.4, 769, 17.5, 849, 22.8, 929, 20, 991, 10.4, 963, 2.5, 946, -5.5, 991, -16, 974, -27.6, 940, -27.6, 906, -22.3, 780, -20.5, 654]],
  [8, [-7.2, 506, -2.8, 466, -0.2, 511, -2.8, 563]],
  [8, [-14, 746, -10.8, 803, -8, 871, -10, 911, -6.4, 946, -9, 963, -19.6, 940, -22.3, 871, -19.6, 809]],
  [-1, [-5, 1000, -1, 1002]],
];

const DEC: Contour[] = [
  [1, [35.5, 90, 35.5, 103, 32.9, 129, 39, 191, 42.6, 237, 40, 369, 38.2, 611, 40.8, 883, 40, 951, 37.3, 1003, 37, 1030, -90, 1030, -90, 90]],
  [0, [-90, 769, -80.6, 769, -80.6, 1030, -90, 1030], "f"],
  [0, [-90, 990, -52, 990, -50, 1030, -90, 1030], "f"],
  [0, [-68, 1030, -68, 974, -63, 954, -57.8, 960, -55, 991, -55, 1030]],
  [-1, [-78.7, 991, -75.3, 980, -71.8, 991]],
  [2, [-5, 90, -5, 103, -4.2, 117, 9, 140, 21.4, 186, 26.7, 243, 27.6, 423, 28.4, 769, 34.6, 883, 34.6, 951, 31, 1003, 31, 1030, -44, 1030, -44, 1003, -52.8, 951, -57.2, 826, -59.9, 700, -65, 517, -63.4, 426, -70.5, 369, -79.3, 357, -86, 374, -90, 380, -90, 234, -86, 234, -75, 203, -63.4, 214, -59.9, 186, -52.8, 174, -52.8, 157, -63.4, 103, -64, 90]],
  [3, [-74.4, 289, -70.5, 279, -63.4, 300, -59, 249, -53.7, 226, -48.4, 186, -40.5, 174, -25.4, 123, -17.5, 146, -3.4, 163, 9, 180, 16, 254, 19.6, 426, 20.5, 711, 31, 860, 31, 951, 28.4, 1003, 28, 1030, -40.5, 1030, -40.5, 1003, -47.5, 883, -49.3, 769, -52.8, 540, -56.4, 346, -68.7, 311]],
  [4, [-59, 271, -59, 249, -52.8, 243, -49.3, 203, -40.5, 186, -36, 169, -26.3, 180, -6.9, 186, 5.5, 220, 10.8, 277, 14.3, 483, 17.8, 769, 28.4, 883, 26.7, 974, 23, 1003, 23, 1030, -36, 1030, -36, 997, -43, 883, -45.8, 654, -45.8, 426, -47.5, 306]],
  [5, [-38.7, 369, -32.5, 289, -19.3, 229, -3.4, 234, 5.5, 277, 9, 426, 10.8, 677, 25, 871, 23, 974, 17, 1003, 17, 1030, -26.3, 1030, -26.3, 1003, -38.7, 974, -37.8, 883, -40, 540]],
  [6, [-30.7, 426, -27.2, 334, -19.3, 283, -3.4, 271, 1, 334, 4.6, 483, 7.2, 677, 19.6, 871, 19.6, 963, 12.5, 997, 3.7, 974, -5.1, 991, -26.3, 997, -36, 974, -34.3, 883, -32.5, 654]],
  [7, [-24.6, 517, -21.9, 380, -14.3, 323, -3.4, 363, 2.8, 483, 3.7, 654, 4.6, 860, 14.3, 894, 13.4, 963, 2.8, 900, -3.4, 946, -17.5, 963, -29.9, 951, -30.3, 917, -25.4, 723, -24.6, 597]],
  [8, [-19.6, 494, -14, 454, -7.8, 489, -2.8, 497, -2.5, 546, -8.7, 551, -13, 694, -19.6, 694]],
  [8, [-19.3, 786, -14.5, 843, -15.7, 883, -19.3, 906, -23, 871, -21, 826]],
  [-1, [-7, 1000, -1, 1002]],
];

const MONTH_CONTOURS = [JAN, FEB, MAR, APR, MAY, JUN, JUL, AUG, SEP, OCT, NOV, DEC];
const BOTTOM_STRIP: Contour = [0, [-95, 1007, 95, 1007, 95, 1030, -95, 1030], "f"];

const COL_LEFT = [125, 508, 891];
const COL_CANVAS = [[0, 478], [478, 861], [861, 1312]];
const ROW_TOP = [42, 416, 790, 1163];
const FRAME_W = 324;
const FRAME_H = 267;
const RIGHT_LABEL_EDGE = 1295;
const FONT = "'Liberation Sans', Arial, sans-serif";

const spacing = {
  id: "spacing",
  beforeDraw(chart: any) {
    chart.ctx.letterSpacing = "1.1px";
  },
};

const frameTicks = {
  id: "frameTicks",
  afterDatasetsDraw(chart: any) {
    const { ctx, chartArea: a, scales } = chart;
    const xs = scales.x;
    const ys = scales.y;
    ctx.save();
    ctx.strokeStyle = "#000";
    ctx.lineWidth = 2;
    ctx.beginPath();
    ctx.rect(a.left, a.top, a.right - a.left, a.bottom - a.top);
    for (let v = -85; v <= 85; v += 5) {
      const px = xs.getPixelForValue(v);
      const big = v % 20 === 0;
      ctx.moveTo(px, a.top);
      ctx.lineTo(px, a.top - (big ? 10 : 5));
      ctx.moveTo(px, a.bottom);
      ctx.lineTo(px, a.bottom + (big ? 12 : 6));
    }
    for (let v = 100; v <= 1000; v += 20) {
      const py = ys.getPixelForValue(v);
      const big = v % 100 === 0;
      ctx.moveTo(a.left, py);
      ctx.lineTo(a.left - (big ? 10 : 5), py);
      ctx.moveTo(a.right, py);
      ctx.lineTo(a.right + (big ? 10 : 5), py);
    }
    ctx.stroke();
    ctx.restore();
  },
};

const unitLabel = {
  id: "unitLabel",
  afterDraw(chart: any) {
    const { ctx } = chart;
    ctx.save();
    ctx.fillStyle = "#000";
    ctx.textBaseline = "alphabetic";
    ctx.textAlign = "left";
    ctx.font = `22px ${FONT}`;
    ctx.fillText("10", 1032, 70.5);
    ctx.fillText("cm", 1081, 70.5);
    ctx.font = `16px ${FONT}`;
    ctx.fillText("6", 1061, 59);
    ctx.fillText("−3", 1117, 59);
    ctx.restore();
  },
};

function toDataset(c: Contour, i: number) {
  const [level, flat, mode] = c;
  const data: { x: number; y: number }[] = [];
  for (let k = 0; k + 1 < flat.length; k += 2) data.push({ x: flat[k], y: flat[k + 1] });
  if (level >= 0 && mode !== "f") data.push({ x: flat[0], y: flat[1] });
  return {
    data,
    showLine: true,
    pointRadius: 0,
    pointHoverRadius: 0,
    tension: mode === "f" ? 0 : 0.25,
    order: -i,
    borderColor: mode === "f" ? "rgba(0,0,0,0)" : "#1c1c1c",
    borderWidth: mode === "f" ? 0 : 1.1,
    backgroundColor: level < 0 ? "rgba(0,0,0,0)" : GREYS[level],
    fill: level < 0 ? false : "shape",
  };
}

function panelConfig(m: number) {
  const col = m % 3;
  const [cl, cr] = COL_CANVAS[col];
  const frameL = COL_LEFT[col];
  const frameR = frameL + FRAME_W;
  const yPos = col === 2 ? "right" : "left";
  const yWidth = col === 2 ? RIGHT_LABEL_EDGE - frameR : frameL - cl;
  const tickFont = { family: FONT, size: 22 };
  return {
    type: "scatter" as const,
    data: { datasets: [...MONTH_CONTOURS[m], BOTTOM_STRIP].map(toDataset) },
    plugins: [spacing, frameTicks],
    options: {
      responsive: false,
      animation: false as const,
      events: [],
      layout: {
        padding: {
          left: col === 2 ? frameL - cl : 0,
          right: col === 2 ? cr - RIGHT_LABEL_EDGE : cr - frameR,
          top: 0,
          bottom: 0,
        },
      },
      plugins: {
        legend: { display: false },
        tooltip: { enabled: false },
        title: {
          display: true,
          text: MONTHS[m],
          fullSize: false,
          color: "#000",
          font: { family: FONT, size: 22, weight: "normal" as const, lineHeight: 1.2 },
          padding: { top: 8.4, bottom: 7.2 },
        },
      },
      scales: {
        x: {
          type: "linear" as const,
          min: -86,
          max: 86,
          grid: { display: false, drawTicks: false },
          border: { display: false },
          afterBuildTicks(s: any) {
            s.ticks = LAT_TICKS.map((value) => ({ value }));
          },
          afterFit(s: any) {
            s.height = 60;
            s.paddingLeft = 0;
            s.paddingRight = 0;
          },
          ticks: {
            autoSkip: false,
            maxRotation: 0,
            minRotation: 0,
            padding: 23,
            color: "#000",
            font: tickFont,
            callback: (v: number) => LAT_LABELS[LAT_TICKS.indexOf(v)],
          },
        },
        y: {
          type: "linear" as const,
          position: yPos,
          reverse: true,
          min: 100,
          max: 1014,
          grid: { display: false, drawTicks: false },
          border: { display: false },
          afterBuildTicks(s: any) {
            s.ticks = PRESSURE_TICKS.map((value) => ({ value }));
          },
          afterFit(s: any) {
            s.width = yWidth;
            s.paddingTop = 0;
            s.paddingBottom = 0;
          },
          title: {
            display: col === 0,
            text: "pressure [hPa]",
            color: "#000",
            font: { family: FONT, size: 23.5, lineHeight: 1.2 },
            padding: { top: 12.6, bottom: 0 },
          },
          ticks: {
            display: col !== 1,
            autoSkip: false,
            padding: col === 2 ? 8 : 23,
            labelOffset: 1.5,
            crossAlign: col === 2 ? ("far" as const) : ("near" as const),
            color: "#000",
            font: tickFont,
            callback: (v: number) => String(v),
          },
        },
      },
    },
  };
}

function legendConfig() {
  const bands = GREYS.map((g) => ({
    data: [LEGEND_STEP],
    backgroundColor: g,
    borderColor: "#111",
    borderWidth: 1.5,
    borderSkipped: false,
    barPercentage: 1,
    categoryPercentage: 1,
  }));
  return {
    type: "bar" as const,
    data: { labels: ["band"], datasets: bands },
    plugins: [spacing, unitLabel],
    options: {
      indexAxis: "y" as const,
      responsive: false,
      animation: false as const,
      events: [],
      layout: { padding: { left: 345, right: 318, top: 20, bottom: 0 } },
      plugins: { legend: { display: false }, tooltip: { enabled: false }, title: { display: false } },
      scales: {
        x: {
          stacked: true,
          min: 0,
          max: 3,
          grid: { display: false, drawTicks: false },
          border: { display: false },
          afterBuildTicks(s: any) {
            s.ticks = LEGEND_TICKS.map((value) => ({ value }));
          },
          afterFit(s: any) {
            s.height = 31;
            s.paddingLeft = 0;
            s.paddingRight = 0;
          },
          ticks: {
            autoSkip: false,
            maxRotation: 0,
            minRotation: 0,
            padding: 5,
            color: "#000",
            font: { family: FONT, size: 22 },
            callback: (v: number) => LEGEND_LABELS[LEGEND_TICKS.indexOf(v)],
          },
        },
        y: { stacked: true, display: false },
      },
    },
  };
}

export default function App() {
  const panelRefs = useRef<(HTMLCanvasElement | null)[]>([]);
  const legendRef = useRef<HTMLCanvasElement | null>(null);

  useEffect(() => {
    const charts: Chart[] = [];
    MONTHS.forEach((_, m) => {
      const cv = panelRefs.current[m];
      if (cv) charts.push(new Chart(cv, panelConfig(m) as any));
    });
    if (legendRef.current) charts.push(new Chart(legendRef.current, legendConfig() as any));
    return () => charts.forEach((c) => c.destroy());
  }, []);

  return (
    <div style={{ position: "absolute", left: 0, top: 0, width: 1312, height: 1570, background: "#fff", overflow: "hidden" }}>
      {MONTHS.map((name, m) => {
        const col = m % 3;
        const row = Math.floor(m / 3);
        const [cl, cr] = COL_CANVAS[col];
        return (
          <canvas
            key={name}
            ref={(el) => {
              panelRefs.current[m] = el;
            }}
            width={cr - cl}
            height={42 + FRAME_H + 60}
            style={{ position: "absolute", left: cl, top: ROW_TOP[row] - 42 }}
          />
        );
      })}
      <canvas ref={legendRef} width={1312} height={79} style={{ position: "absolute", left: 0, top: 1491 }} />
    </div>
  );
}
